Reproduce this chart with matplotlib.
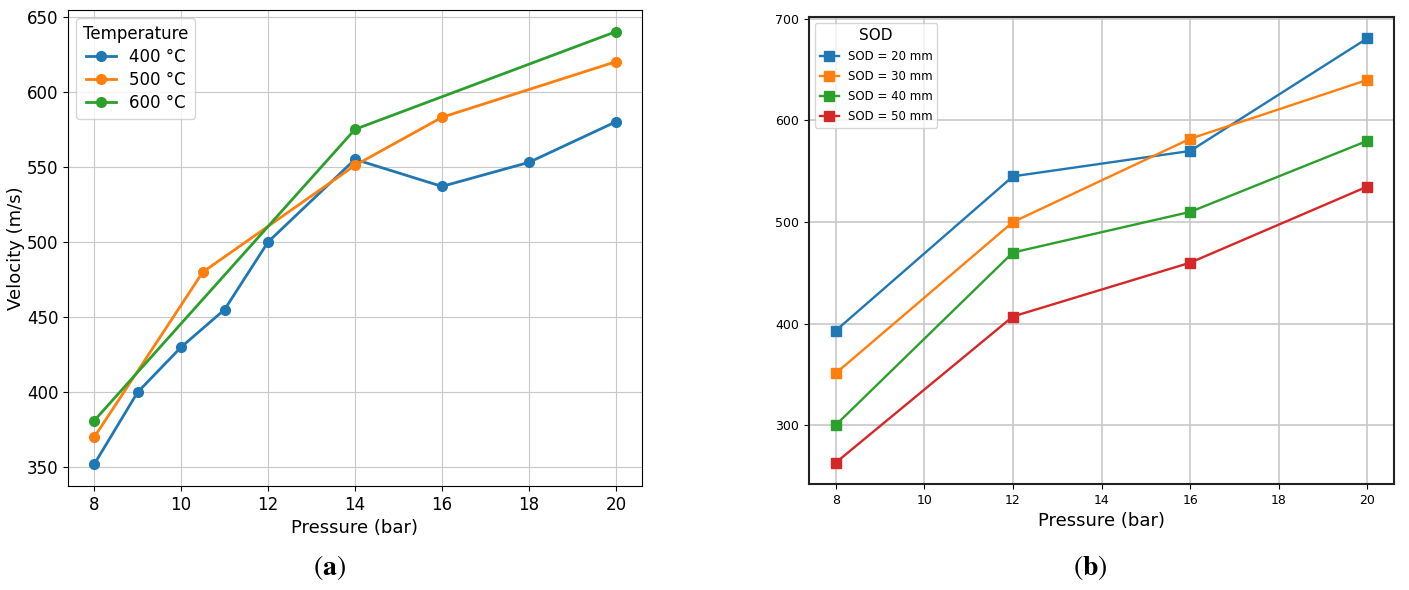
import numpy as np
import matplotlib.pyplot as plt

plt.rcParams['mathtext.fontset'] = 'stix'

# panel (a): velocity vs pressure for three temperatures
p400 = [8, 9, 10, 11, 12, 14, 16, 18, 20]
v400 = [352, 400, 430, 455, 500, 555, 537, 553, 580]
p500 = [8, 10.5, 14, 16, 20]
v500 = [370, 480, 551, 583, 620]
p600 = [8, 14, 20]
v600 = [381, 575, 640]

# panel (b): velocity vs pressure for four stand-off distances
p_sod = [8, 12, 16, 20]
v_sod20 = [393, 545, 570, 681]
v_sod30 = [351, 500, 582, 640]
v_sod40 = [300, 470, 510, 580]
v_sod50 = [263, 407, 460, 535]

fig = plt.figure(figsize=(14.09, 5.9), dpi=100)

ax1 = fig.add_axes([0.0483, 0.1763, 0.4073, 0.8067])
ax1.plot(p400, v400, marker='o', ms=7, lw=2, label='400 °C')
ax1.plot(p500, v500, marker='o', ms=7, lw=2, label='500 °C')
ax1.plot(p600, v600, marker='o', ms=7, lw=2, label='600 °C')
ax1.set_xticks([8, 10, 12, 14, 16, 18, 20])
ax1.set_xlabel('Pressure (bar)', fontsize=13)
ax1.set_ylabel('Velocity (m/s)', fontsize=13, labelpad=1)
ax1.tick_params(labelsize=12)
ax1.grid(True, color='#c8c8c8')
ax1.legend(title='Temperature', fontsize=12, title_fontsize=12, loc='upper left',
           handlelength=1.8, labelspacing=0.3)

ax2 = fig.add_axes([0.5742, 0.1797, 0.4152, 0.7915])
ax2.plot(p_sod, v_sod20, marker='s', ms=7, lw=1.7, label='SOD = 20 mm')
ax2.plot(p_sod, v_sod30, marker='s', ms=7, lw=1.7, label='SOD = 30 mm')
ax2.plot(p_sod, v_sod40, marker='s', ms=7, lw=1.7, label='SOD = 40 mm')
ax2.plot(p_sod, v_sod50, marker='s', ms=7, lw=1.7, label='SOD = 50 mm')
ax2.set_xticks([8, 10, 12, 14, 16, 18, 20])
ax2.set_yticks([300, 400, 500, 600, 700])
ax2.set_xlabel('Pressure (bar)', fontsize=13)
ax2.tick_params(labelsize=9)
ax2.grid(True, color='#c8c8c8', lw=1.2)
for s in ax2.spines.values():
    s.set_linewidth(1.5)
    s.set_color('#222222')
ax2.legend(title='SOD', fontsize=8.5, title_fontsize=11, loc='upper left',
           handlelength=1.6, labelspacing=0.6)

fig.text(0.234, 0.038, r'$(\mathbf{a})$', ha='center', va='center', fontsize=20)
fig.text(0.774, 0.038, r'$(\mathbf{b})$', ha='center', va='center', fontsize=20)

fig.savefig('out.png', dpi=100)
